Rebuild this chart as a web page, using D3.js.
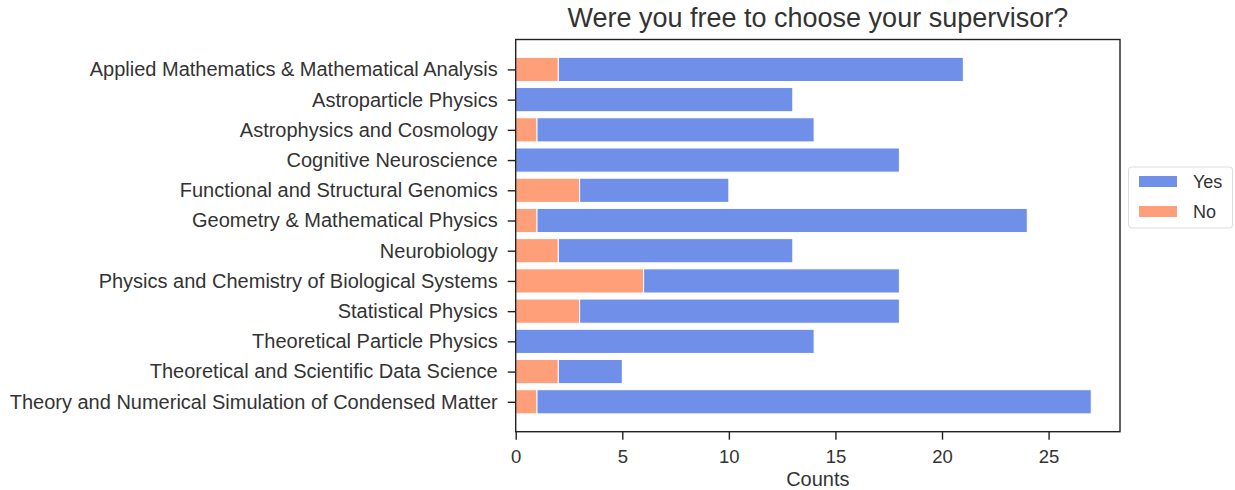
<!DOCTYPE html>
<html><head><meta charset="utf-8">
<script src="https://cdn.jsdelivr.net/npm/d3@7"></script>
<style>body{margin:0;background:#fff;}svg{display:block;font-family:"Liberation Sans",Arial,sans-serif;}</style>
</head><body><svg id="c" width="1235" height="490"></svg>
<script>
const categories = ["Applied Mathematics & Mathematical Analysis","Astroparticle Physics","Astrophysics and Cosmology","Cognitive Neuroscience","Functional and Structural Genomics","Geometry & Mathematical Physics","Neurobiology","Physics and Chemistry of Biological Systems","Statistical Physics","Theoretical Particle Physics","Theoretical and Scientific Data Science","Theory and Numerical Simulation of Condensed Matter"];
const noValues = [2,0,1,0,3,1,2,6,3,0,2,1];
const yesValues = [19,13,13,18,7,23,11,12,15,14,3,26];
const xTicks = [0,5,10,15,20,25];
const seriesNames = ["Yes","No"];
const colors = {Yes:"#6f8fe8", No:"#ff9f7a"};

const svg = d3.select("#c");
const L=515.7, R=1120, T=39.5, B=431.7;
const x = d3.scaleLinear().domain([0,28.35]).range([L,R]);
const y = d3.scaleLinear().domain([-0.99,11.99]).range([T,B]);
const bh = (y(0.4)-y(-0.4));

const g = svg.append("g");
categories.forEach((c,i)=>{
  const n = noValues[i], yv = yesValues[i];
  if (n>0) g.append("rect").attr("x",x(0)).attr("y",y(i)-bh/2).attr("width",x(n)-x(0)).attr("height",bh)
    .attr("fill",colors.No).attr("stroke","#fff").attr("stroke-width",1);
  g.append("rect").attr("x",x(n)).attr("y",y(i)-bh/2).attr("width",x(n+yv)-x(n)).attr("height",bh)
    .attr("fill",colors.Yes).attr("stroke","#fff").attr("stroke-width",1);
});

// frame
svg.append("rect").attr("x",L).attr("y",T).attr("width",R-L).attr("height",B-T)
  .attr("fill","none").attr("stroke","#222").attr("stroke-width",1.4);

// x axis
const xa = svg.append("g").attr("transform",`translate(0,${B})`)
  .call(d3.axisBottom(x).tickValues(xTicks).tickSize(8).tickPadding(10).tickFormat(d3.format("d")));
xa.select(".domain").remove();
xa.selectAll("line").attr("stroke","#222").attr("stroke-width",1.4);
xa.selectAll("text").attr("font-size",18.5).attr("fill","#333").attr("font-family","Liberation Sans, Arial, sans-serif");

// y axis
const ya = svg.append("g").attr("transform",`translate(${L},0)`)
  .call(d3.axisLeft(y).tickValues(d3.range(categories.length)).tickSize(8).tickPadding(10).tickFormat(i=>categories[i]));
ya.select(".domain").remove();
ya.selectAll("line").attr("stroke","#222").attr("stroke-width",1.4);
ya.selectAll("text").attr("font-size",20).attr("fill","#333").attr("font-family","Liberation Sans, Arial, sans-serif");

svg.append("text").attr("x",(L+R)/2).attr("y",27).attr("text-anchor","middle")
  .attr("font-size",27).attr("fill","#333").text("Were you free to choose your supervisor?");
svg.append("text").attr("x",(L+R)/2).attr("y",486).attr("text-anchor","middle")
  .attr("font-size",20).attr("fill","#333").text("Counts");

// legend
const lg = svg.append("g");
lg.append("rect").attr("x",1128.5).attr("y",167).attr("width",104).attr("height",61).attr("rx",3)
  .attr("fill","#fff").attr("stroke","#ddd");
seriesNames.forEach((s,i)=>{
  lg.append("rect").attr("x",1139).attr("y",176+i*30).attr("width",38).attr("height",11).attr("fill",colors[s]);
  lg.append("text").attr("x",1193).attr("y",188+i*30).attr("font-size",18).attr("fill","#333").text(s);
});
</script></body></html>
